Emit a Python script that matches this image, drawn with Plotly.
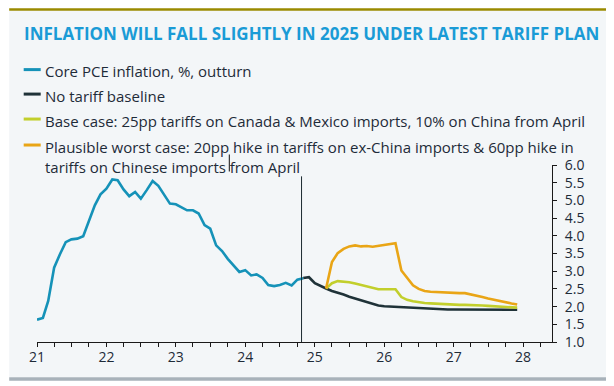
import pandas as pd
import plotly.graph_objects as go

# ---------------- data ----------------
title_text = "INFLATION WILL FALL SLIGHTLY IN 2025 UNDER LATEST TARIFF PLAN"

series_names = [
    "Core PCE inflation, %, outturn",
    "No tariff baseline",
    "Base case: 25pp tariffs on Canada & Mexico imports, 10% on China from April",
    "Plausible worst case: 20pp hike in tariffs on ex-China imports & 60pp hike in<br>tariffs on Chinese imports from April",
]

outturn_dates = pd.date_range("2021-01-01", "2024-11-01", freq="MS")
outturn = [
    1.63, 1.68, 2.16, 3.10, 3.47, 3.82, 3.90, 3.92, 3.99, 4.42, 4.86, 5.17,
    5.33, 5.59, 5.57, 5.31, 5.12, 5.24, 5.05, 5.29, 5.55, 5.41, 5.14, 4.91,
    4.89, 4.79, 4.72, 4.72, 4.63, 4.30, 4.20, 3.73, 3.57, 3.35, 3.15, 2.98,
    3.03, 2.88, 2.91, 2.81, 2.61, 2.58, 2.61, 2.67, 2.60, 2.76, 2.80,
]

baseline_dates = pd.date_range("2024-11-01", "2027-12-01", freq="MS")
baseline = [
    2.81, 2.83,
    2.66, 2.57, 2.51, 2.44, 2.40, 2.34, 2.28, 2.23, 2.17, 2.11, 2.07, 2.03,
    2.01, 2.00, 1.99, 1.98, 1.97, 1.96, 1.95, 1.94, 1.93, 1.93, 1.92, 1.92,
    1.92, 1.92, 1.91, 1.91, 1.91, 1.91, 1.91, 1.91, 1.91, 1.91, 1.91, 1.91,
]

scenario_dates = pd.date_range("2025-03-01", "2027-12-01", freq="MS")
base_case = [
    2.51, 2.66, 2.72, 2.71, 2.69, 2.65, 2.61, 2.55, 2.52, 2.49,
    2.49, 2.49, 2.49, 2.27, 2.19, 2.15, 2.12, 2.10, 2.09, 2.08, 2.07, 2.06,
    2.05, 2.05, 2.05, 2.05, 2.04, 2.03, 2.02, 2.01, 2.00, 1.99, 1.98, 1.97,
]
worst_case = [
    2.51, 3.26, 3.51, 3.63, 3.70, 3.73, 3.70, 3.71, 3.69, 3.72,
    3.75, 3.77, 3.79, 3.02, 2.82, 2.60, 2.50, 2.44, 2.42, 2.41, 2.40, 2.39,
    2.38, 2.38, 2.38, 2.35, 2.31, 2.27, 2.23, 2.19, 2.16, 2.12, 2.09, 2.06,
]

y_ticks = [1.0, 1.5, 2.0, 2.5, 3.0, 3.5, 4.0, 4.5, 5.0, 5.5, 6.0]
forecast_start = "2024-10-23"

# ---------------- style ----------------
OFF = 8  # page body margin offset
W, H = 614 - OFF, 386 - OFF
L, R = 37.3 - OFF, 62
T, B = 164.5 - OFF, 44.3
colors = ["#1592b8", "#1f3238", "#c2cf2c", "#e9a516"]
txt_col = "#1e2b38"
font_family = "Open Sans, Roboto, sans-serif"

def px(x):  # page x -> paper
    return (x - OFF - L) / (W - L - R)

def py(y):  # page y -> paper
    return (H - B - (y - OFF)) / (H - T - B)

fig = go.Figure()
fig.add_trace(go.Scatter(x=outturn_dates, y=outturn, mode="lines",
                         line=dict(color=colors[0], width=2.6), name=series_names[0]))
fig.add_trace(go.Scatter(x=baseline_dates, y=baseline, mode="lines",
                         line=dict(color=colors[1], width=2.6), name=series_names[1]))
fig.add_trace(go.Scatter(x=scenario_dates, y=base_case, mode="lines",
                         line=dict(color=colors[2], width=2.6), name=series_names[2]))
fig.add_trace(go.Scatter(x=scenario_dates, y=worst_case, mode="lines",
                         line=dict(color=colors[3], width=2.6), name=series_names[3]))

shapes = [
    dict(type="rect", xref="paper", yref="paper", x0=px(9.5), x1=px(620), y0=py(377), y1=py(10),
         fillcolor="#f3f6f8", line=dict(width=0), layer="below"),
    dict(type="rect", xref="paper", yref="paper", x0=px(9.5), x1=px(620), y0=py(10), y1=py(7.5),
         fillcolor="#9a8a00", line=dict(width=0), layer="below"),
    dict(type="rect", xref="paper", yref="paper", x0=px(9.5), x1=px(620), y0=py(380.5), y1=py(377),
         fillcolor="#a8b2ba", line=dict(width=0), layer="below"),
    dict(type="line", xref="x", yref="y", x0=forecast_start, x1=forecast_start, y0=1, y1=5.68,
         line=dict(color="#1b2a30", width=1)),
    dict(type="line", xref="paper", yref="paper", x0=px(229.5), x1=px(229.5), y0=py(171), y1=py(154),
         line=dict(color="#111111", width=1)),
]

annotations = [
    dict(text="<b>" + title_text + "</b>", xref="paper", yref="paper", x=px(22), y=py(33),
         xanchor="left", yanchor="middle", showarrow=False,
         font=dict(family=font_family, size=17, color="#1a9bd6")),
]

legend_y = [69, 93.5, 118.5, 144.5]
for i, name in enumerate(series_names):
    shapes.append(dict(type="line", xref="paper", yref="paper", x0=px(24), x1=px(41),
                       y0=py(legend_y[i]), y1=py(legend_y[i]),
                       line=dict(color=colors[i], width=3)))
    annotations.append(dict(text=name, xref="paper", yref="paper", x=px(43), y=py(legend_y[i] - 10.5),
                            xanchor="left", yanchor="top", align="left", showarrow=False,
                            font=dict(family=font_family, size=15, color=txt_col)))

fig.update_layout(
    width=W, height=H,
    margin=dict(l=L, r=R, t=T, b=B, pad=0),
    paper_bgcolor="white",
    plot_bgcolor="rgba(0,0,0,0)",
    showlegend=False,
    shapes=shapes,
    annotations=annotations,
    font=dict(family=font_family, size=14, color=txt_col),
    xaxis=dict(
        type="date",
        range=["2021-01-01", "2028-06-01"],
        tick0="2021-01-01", dtick="M12", tickformat="%y",
        ticks="outside", ticklen=4, tickwidth=1, tickcolor="#1a1a1a",
        showline=True, linecolor="#1a1a1a", linewidth=1,
        showgrid=False, zeroline=False,
        minor=dict(dtick="M3", ticks="outside", ticklen=4, tickcolor="#1a1a1a", showgrid=False),
        ticklabelstandoff=-2,
        tickfont=dict(family=font_family, size=14, color=txt_col),
    ),
    yaxis=dict(
        side="right",
        range=[1, 6],
        tickvals=y_ticks, tickformat=".1f",
        ticks="outside", ticklen=4, tickwidth=1, tickcolor="#1a1a1a",
        showline=True, linecolor="#1a1a1a", linewidth=1,
        showgrid=False, zeroline=False,
        ticklabelstandoff=5,
        tickfont=dict(family=font_family, size=14, color=txt_col),
    ),
)

fig.write_html("out.html")
